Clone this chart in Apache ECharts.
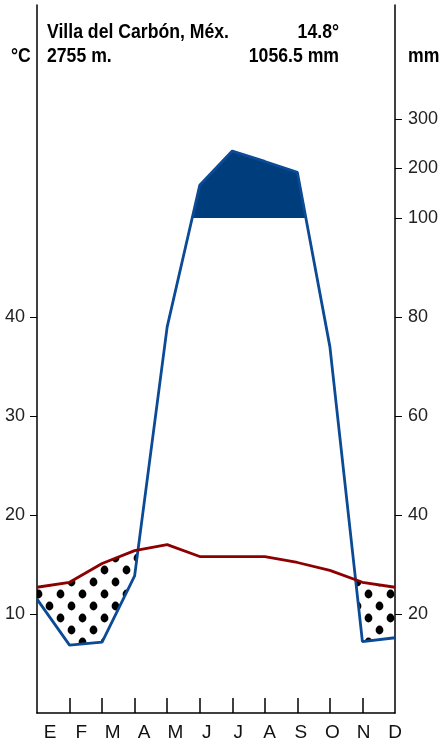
<!DOCTYPE html>
<html>
<head>
<meta charset="utf-8">
<script src="https://cdn.jsdelivr.net/npm/echarts@6/dist/echarts.min.js"></script>
<style>
html,body{margin:0;padding:0;background:#fff;}
#chart{width:441px;height:745px;}
</style>
</head>
<body>
<div id="chart"></div>
<script>
// ---- data ----
const months = ['E','F','M','A','M','J','J','A','S','O','N','D'];
const tempC = [12.7, 13.2, 15.1, 16.4, 17.0, 15.8, 15.8, 15.8, 15.2, 14.4, 13.2, 12.7];
const precipMm = [23.0, 13.7, 14.3, 27.7, 78, 166, 235, 214, 192, 74, 14.4, 15.2];
const tempTicks = [10, 20, 30, 40];
const mmTicks = [20, 40, 60, 80, 100, 200, 300];
const stationName = 'Villa del Carbón, Méx.';
const stationAlt = '2755 m.';
const meanTemp = '14.8°';
const totalPrecip = '1056.5 mm';

// Walter-Lieth scale: 20 mm = 10 °C up to 100 mm, compressed 1/10 above
function scaleP(p){ return p <= 100 ? p / 2 : 50 + (p - 100) / 20; }
function unscaleP(v){ return v <= 50 ? v * 2 : 100 + (v - 50) * 20; }

const pScaled = precipMm.map(scaleP);

function interp(arr, x){
  const i = Math.min(Math.floor(x), arr.length - 2);
  const t = x - i;
  return arr[i] * (1 - t) + arr[i + 1] * t;
}
function regionXs(d){
  const regs = []; let cur = null;
  for (let i = 0; i < d.length; i++){
    if (d[i] > 0){
      if (!cur){ cur = []; if (i > 0) cur.push(i - 1 + d[i-1] / (d[i-1] - d[i])); }
      cur.push(i);
    } else if (cur){
      cur.push(i - 1 + d[i-1] / (d[i-1] - d[i]));
      regs.push(cur); cur = null;
    }
  }
  if (cur) regs.push(cur);
  return regs;
}

// dot pattern
const pat = document.createElement('canvas');
pat.width = 22; pat.height = 24;
(function(){
  const c = pat.getContext('2d');
  c.fillStyle = '#000';
  [[5.5,6],[16.5,18]].forEach(function(p){
    c.beginPath(); c.ellipse(p[0], p[1], 3.9, 4.4, 0, 0, Math.PI*2); c.fill();
  });
})();

const FONT = '"Liberation Sans", Arial, sans-serif';
const HFONT = 'bold 21px ' + FONT;
const SX = 0.84;

const chart = echarts.init(document.getElementById('chart'), null, {renderer:'canvas'});

const axisLineStyle = {color:'#000', width:1.5};

function headerText(txt, x, y, align){
  return {type:'text', x:x, y:y, scaleX:SX, scaleY:1, originX:0, originY:0,
          style:{text:txt, font:HFONT, fill:'#000', align:align, verticalAlign:'middle'}};
}

const option = {
  animation: false,
  grid: [
    {left:37, right:42, top:5, bottom:32},
    {left:34.3, right:30.3, top:5, bottom:32}
  ],
  xAxis: [
    {type:'value', gridIndex:0, min:0, max:11, interval:1,
     axisLine:{show:true, onZero:false, lineStyle:axisLineStyle},
     axisTick:{show:true, inside:true, length:15, customValues:[1,2,3,4,5,6,7,8,9,10], lineStyle:axisLineStyle},
     axisLabel:{show:false}, splitLine:{show:false}},
    {type:'category', gridIndex:1, data:months, boundaryGap:true,
     axisLine:{show:false}, axisTick:{show:false},
     axisLabel:{margin:10, fontSize:19, fontFamily:FONT, color:'#111'}}
  ],
  yAxis: [
    {type:'value', gridIndex:0, min:0, max:71.5, position:'left',
     axisLine:{show:true, lineStyle:axisLineStyle},
     axisTick:{show:true, length:7, customValues:tempTicks, lineStyle:{color:'#000', width:1}},
     axisLabel:{customValues:tempTicks, fontSize:18, fontFamily:FONT, color:'#222', margin:12},
     splitLine:{show:false}},
    {type:'value', gridIndex:0, min:0, max:71.5, position:'right',
     axisLine:{show:true, lineStyle:axisLineStyle},
     axisTick:{show:true, length:7, customValues:mmTicks.map(scaleP), lineStyle:{color:'#000', width:1}},
     axisLabel:{customValues:mmTicks.map(scaleP), fontSize:18, fontFamily:FONT, color:'#222', margin:13,
       formatter:function(v){ return String(Math.round(unscaleP(v))); }},
     splitLine:{show:false}},
    {type:'value', gridIndex:1, show:false, min:0, max:71.5}
  ],
  graphic: [
    headerText(stationName, 47, 32, 'left'),
    headerText(stationAlt, 47, 56, 'left'),
    headerText(meanTemp, 339, 32, 'right'),
    headerText(totalPrecip, 339, 56, 'right'),
    headerText('°C', 11, 56, 'left'),
    headerText('mm', 408, 56, 'left')
  ],
  series: [
    {type:'custom', coordinateSystem:'cartesian2d', xAxisIndex:0, yAxisIndex:0, silent:true, z:1,
     data:[[0,0]],
     renderItem:function(params, api){
       const children = [];
       // dry period (temperature above precipitation): dots
       const dDry = tempC.map(function(t,i){ return t - pScaled[i]; });
       regionXs(dDry).forEach(function(xs){
         const pts = [];
         xs.forEach(function(x){ pts.push(api.coord([x, interp(tempC, x)])); });
         xs.slice().reverse().forEach(function(x){ pts.push(api.coord([x, interp(pScaled, x)])); });
         children.push({type:'polygon', shape:{points:pts}, style:{fill:{image:pat, repeat:'repeat'}}});
       });
       // very humid period (> 100 mm): solid fill
       const base = scaleP(100);
       const dWet = pScaled.map(function(p){ return p - base; });
       regionXs(dWet).forEach(function(xs){
         const pts = [];
         xs.forEach(function(x){ pts.push(api.coord([x, interp(pScaled, x)])); });
         xs.slice().reverse().forEach(function(x){ pts.push(api.coord([x, base])); });
         children.push({type:'polygon', shape:{points:pts}, style:{fill:'#003d7c'}});
       });
       return {type:'group', children:children};
     }},
    {type:'line', xAxisIndex:0, yAxisIndex:0, z:3, symbol:'none',
     data: pScaled.map(function(v,i){ return [i, v]; }),
     lineStyle:{color:'#0b4a94', width:2.8}},
    {type:'line', xAxisIndex:0, yAxisIndex:0, z:4, symbol:'none',
     data: tempC.map(function(v,i){ return [i, v]; }),
     lineStyle:{color:'#8c0000', width:2.8}}
  ]
};
chart.setOption(option);
</script>
</body>
</html>
